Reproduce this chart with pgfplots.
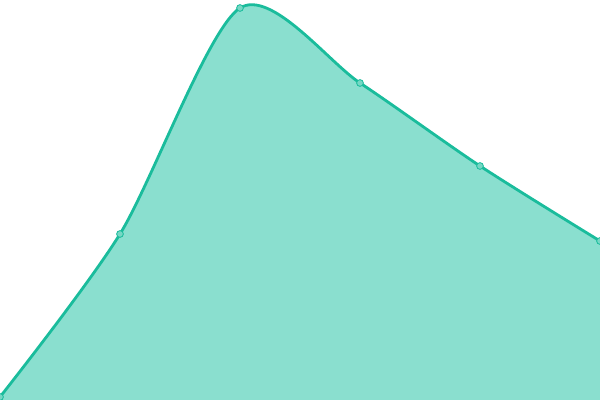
\documentclass[border=0pt]{standalone}
\usepackage{pgfplots}
\pgfplotsset{compat=1.18}
\definecolor{lineteal}{HTML}{1ABC9C}
\definecolor{areateal}{HTML}{8ADFCF}
\definecolor{markfill}{HTML}{76D7C4}
\begin{document}
\begin{tikzpicture}
\begin{axis}[
    hide axis,
    scale only axis,
    width=15cm, height=10cm,
    xmin=0, xmax=600,
    ymin=0, ymax=400,
    clip mode=global,
]
\addplot[draw=none, fill=areateal, smooth, tension=0.47] coordinates {
    (0,3)(120,166)(240,392)(360,317)(480,234)(600,159)
} \closedcycle;
\addplot[color=lineteal, line width=2pt, smooth, tension=0.47,
    mark=*, mark size=2.4pt,
    mark options={fill=markfill, draw=lineteal, line width=0.6pt}] coordinates {
    (0,3)(120,166)(240,392)(360,317)(480,234)(600,159)
};
\end{axis}
\pgfresetboundingbox
\path (0,0) rectangle (15cm,10cm);
\end{tikzpicture}
\end{document}
